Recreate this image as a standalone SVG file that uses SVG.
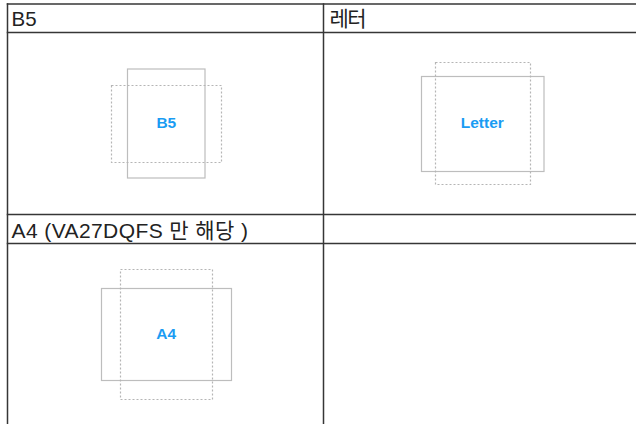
<svg xmlns="http://www.w3.org/2000/svg" width="636" height="424" viewBox="0 0 636 424">
<style>
.grid{stroke:#363636;stroke-width:1.5;fill:none}
.hdr{font-family:"Liberation Sans","Noto Sans CJK KR",sans-serif;font-size:21px;fill:#222}
.sheet{fill:none;stroke:#bdbdbd;stroke-width:1.2}
.dash{fill:none;stroke:#b5b5b5;stroke-width:1.2;stroke-dasharray:2 2}
.lbl{font-family:"Liberation Sans",Arial,sans-serif;font-size:15.5px;font-weight:bold;fill:#1a9cf3;text-anchor:middle}
</style>
<rect width="636" height="424" fill="#fff"/>
<g id="table" class="grid">
<line x1="6.75" y1="4" x2="636" y2="4"/>
<line x1="6.75" y1="32.5" x2="636" y2="32.5"/>
<line x1="6.75" y1="214.5" x2="636" y2="214.5"/>
<line x1="6.75" y1="243.5" x2="636" y2="243.5"/>
<line x1="7.5" y1="3.25" x2="7.5" y2="424"/>
<line x1="323.5" y1="3.25" x2="323.5" y2="424"/>
</g>
<g id="headers" class="hdr">
<text x="11.5" y="26" textLength="25" lengthAdjust="spacingAndGlyphs">B5</text>
<text x="329.5" y="26" textLength="37" lengthAdjust="spacing">레터</text>
<text x="11.5" y="237.5" textLength="236.5" lengthAdjust="spacing">A4 (VA27DQFS 만 해당 )</text>
</g>
<g id="b5">
<rect class="sheet" x="127.5" y="69" width="77.5" height="109"/>
<rect class="dash" x="111.5" y="85.5" width="110" height="77"/>
<text class="lbl" x="166.3" y="128.3">B5</text>
</g>
<g id="letter">
<rect class="sheet" x="421.5" y="76.5" width="122.5" height="95"/>
<rect class="dash" x="435.5" y="62.5" width="95" height="122"/>
<text class="lbl" x="482.3" y="128.3">Letter</text>
</g>
<g id="a4">
<rect class="sheet" x="101.5" y="288.5" width="130" height="92"/>
<rect class="dash" x="120.5" y="269.5" width="92" height="130"/>
<text class="lbl" x="166.2" y="339">A4</text>
</g>
</svg>
